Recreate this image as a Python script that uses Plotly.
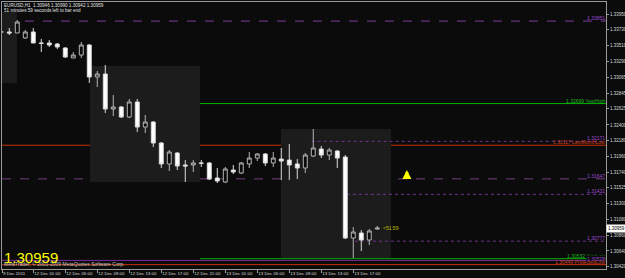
import plotly.graph_objects as go

# ---------------- data ----------------
bar_times = (["9 Dec 21:00", "9 Dec 22:00", "9 Dec 23:00"]
             + ["12 Dec %02d:00" % h for h in range(24)]
             + ["13 Dec %02d:00" % h for h in range(21)])

opens = [1.33699, 1.33699, 1.33685, 1.33615, 1.33699, 1.33545, 1.33545, 1.33531,
         1.33475, 1.33335, 1.33377, 1.33517, 1.33070, 1.33112, 1.32623, 1.32651,
         1.32511, 1.32721, 1.32371, 1.32441, 1.32148, 1.31855, 1.32008, 1.31841,
         1.31841, 1.31869, 1.31869, 1.31659, 1.31603, 1.31771, 1.31729, 1.31855,
         1.31938, 1.31994, 1.31869, 1.31924, 1.31910, 1.31855, 1.31799, 1.31966,
         1.32064, 1.31980, 1.32036, 1.31952, 1.30821, 1.30891, 1.30793, 1.30946]
highs = [1.33727, 1.33754, 1.33866, 1.33727, 1.33754, 1.33601, 1.33587, 1.33545,
         1.33489, 1.33419, 1.33559, 1.33531, 1.33154, 1.33238, 1.32818, 1.32665,
         1.32763, 1.32763, 1.32539, 1.32455, 1.32162, 1.32050, 1.32022, 1.31910,
         1.31910, 1.31910, 1.31883, 1.31799, 1.31813, 1.31841, 1.31883, 1.32022,
         1.32008, 1.32008, 1.32022, 1.32078, 1.32134, 1.31924, 1.32008, 1.32344,
         1.32106, 1.32078, 1.32050, 1.31980, 1.30974, 1.30933, 1.30947, 1.30990]
lows = [1.33671, 1.33657, 1.33685, 1.33601, 1.33545, 1.33419, 1.33489, 1.33461,
        1.33335, 1.33335, 1.33335, 1.32986, 1.32930, 1.32567, 1.32525, 1.32497,
        1.32497, 1.32302, 1.32288, 1.32092, 1.31799, 1.31757, 1.31771, 1.31603,
        1.31743, 1.31813, 1.31631, 1.31589, 1.31589, 1.31715, 1.31715, 1.31799,
        1.31896, 1.31827, 1.31813, 1.31631, 1.31631, 1.31645, 1.31729, 1.31952,
        1.31938, 1.31910, 1.31799, 1.30807, 1.30541, 1.30639, 1.30723, 1.30942]
closes = [1.33700, 1.33685, 1.33838, 1.33699, 1.33545, 1.33540, 1.33517, 1.33489,
          1.33349, 1.33377, 1.33517, 1.33070, 1.33112, 1.32623, 1.32651, 1.32511,
          1.32721, 1.32371, 1.32441, 1.32148, 1.31855, 1.32022, 1.31827, 1.31827,
          1.31869, 1.31865, 1.31645, 1.31617, 1.31785, 1.31743, 1.31869, 1.31938,
          1.31994, 1.31869, 1.31938, 1.31896, 1.31841, 1.31799, 1.31980, 1.32078,
          1.31980, 1.32050, 1.31938, 1.30821, 1.30905, 1.30793, 1.30919, 1.30959]

x_ticks = [0.1, 4, 8, 12, 16, 20, 24, 28, 32, 36, 40, 44]
x_tick_labels = ["9 Dec 2011", "12 Dec 01:00", "12 Dec 05:00", "12 Dec 09:00",
                 "12 Dec 13:00", "12 Dec 17:00", "12 Dec 21:00", "13 Dec 01:00",
                 "13 Dec 05:00", "13 Dec 09:00", "13 Dec 13:00", "13 Dec 17:00"]

y_ticks = [1.33950, 1.33730, 1.33510, 1.33290, 1.33065, 1.32845, 1.32625, 1.32400,
           1.32180, 1.31960, 1.31740, 1.31525, 1.31300, 1.31080, 1.30860, 1.30640,
           1.30420]
y_tick_labels = ["%.5f" % v for v in y_ticks]

# level lines: value, start bar (None = full width), colour, dash, label, label colour
level_values = [1.33851, 1.32699, 1.32171, 1.32117, 1.31647, 1.31431, 1.30777,
                1.30532, 1.30508, 1.30449]
level_starts = [2.96, 24.84, 38.8, None, None, 43.2, 44.2, 24.84, None, None]
level_colors = ["#7d3c9c", "#00b400", "#6f3590", "#c8320a", "#74407f", "#6f3590",
                "#6f3590", "#00b400", "#7a2a9a", "#c8320a"]
level_dash = ["dash", "solid", "dot", "solid", "dash", "dot", "dot", "solid",
              "solid", "solid"]
level_labels = ["1.33851", "1.32699 YestHigh", "1.32171", "1.32117 LastMonthLow",
                "1.31647", "1.31431", "1.30777", "1.30532 YestLow", "1.30528",
                "1.30449 ProjectedLow"]
level_label_colors = ["#9c48d0", "#22b422", "#9c48d0", "#d2401a", "#9c48d0",
                      "#9c48d0", "#9c48d0", "#22b422", "#9c48d0", "#d2401a"]

# shaded session boxes: x0, x1 (bar index), y0, y1 (price)
boxes_x0 = [-1.0, 11.09, 34.96]
boxes_x1 = [1.96, 24.84, 48.71]
boxes_y0 = [1.32986, 1.31603, 1.30542]
boxes_y1 = [1.33978, 1.33224, 1.32344]

signal_arrow = (50.7, 1.31771)
current_price = 1.30959

# ---------------- figure ----------------
BG = "#0b0b0b"
X_RANGE = [0.09, 75.59]
Y_RANGE = [1.303881, 1.341176]
L, R, T, B = 2, 19, 2, 9
W, H = 625, 278
PW, PH = W - L - R, H - T - B


def px(x):
    return (x - L) / PW


def py(y):
    return (H - B - y) / PH


fig = go.Figure()
fig.add_trace(go.Candlestick(
    x=list(range(len(opens))), open=opens, high=highs, low=lows, close=closes,
    text=bar_times,
    increasing=dict(line=dict(color="#b4b4b4", width=1), fillcolor=BG),
    decreasing=dict(line=dict(color="#dcdcdc", width=1), fillcolor="#ffffff"),
    whiskerwidth=0, showlegend=False))

shapes = []
for x0, x1, y0, y1 in zip(boxes_x0, boxes_x1, boxes_y0, boxes_y1):
    shapes.append(dict(type="rect", xref="x", yref="y", x0=x0, x1=x1, y0=y0, y1=y1,
                       fillcolor="#1c1c1c", line=dict(width=0), layer="below"))
for v, s, c, d in zip(level_values, level_starts, level_colors, level_dash):
    if s is None:
        shapes.append(dict(type="line", xref="paper", yref="y", x0=0, x1=1, y0=v, y1=v,
                           line=dict(color=c, width=1, dash=d), layer="below"))
    else:
        shapes.append(dict(type="line", xref="x", yref="y", x0=s, x1=X_RANGE[1], y0=v,
                           y1=v, line=dict(color=c, width=1, dash=d), layer="below"))

F = "Liberation Sans"
ann = []
for v, lab, c in zip(level_values, level_labels, level_label_colors):
    a = dict(xref="paper", yref="y", x=1, y=v, xanchor="right", yanchor="bottom",
             text=lab, showarrow=False, font=dict(family=F, size=5, color=c),
             borderpad=0, yshift=-1)
    if lab == "1.30528":
        a["bgcolor"] = BG
        a["yshift"] = -3
    ann.append(a)

ann += [
    dict(xref="paper", yref="paper", x=px(3), y=py(5), xanchor="left", yanchor="middle",
         text="EURUSD,H1  1.30946 1.30990 1.30942 1.30959", showarrow=False,
         font=dict(family=F, size=4.6, color="#e0e0e0"), borderpad=0),
    dict(xref="paper", yref="paper", x=px(3), y=py(11), xanchor="left", yanchor="middle",
         text="51 minutes 59 seconds left to bar end", showarrow=False,
         font=dict(family=F, size=4.6, color="#e0e0e0"), borderpad=0),
    dict(xref="paper", yref="paper", x=px(3), y=py(264), xanchor="left", yanchor="middle",
         text="MetaTrader, © 2001-2009 MetaQuotes Software Corp.", showarrow=False,
         font=dict(family=F, size=5, color="#c8c8c8"), borderpad=0),
    dict(xref="paper", yref="paper", x=px(3), y=py(257), xanchor="left", yanchor="middle",
         text="1.30959", showarrow=False,
         font=dict(family=F, size=15, color="#ffff00"), borderpad=0),
    dict(xref="x", yref="y", x=47.6, y=current_price, xanchor="left", yanchor="middle",
         text="<51:59", showarrow=False,
         font=dict(family=F, size=5, color="#c0c000"), borderpad=0),
    dict(xref="paper", yref="y", x=1, y=current_price, xanchor="left", yanchor="middle",
         text="1.30959", showarrow=False, bgcolor="#ffffff",
         font=dict(family=F, size=4.5, color="#000000"), borderpad=1),
    dict(xref="x", yref="y", x=signal_arrow[0], y=signal_arrow[1], ax=0, ay=10,
         text="", showarrow=True, arrowhead=2, arrowsize=0.6, arrowwidth=3,
         arrowcolor="#ffff00"),
]

fig.update_layout(
    width=W, height=H, margin=dict(l=L, r=R, t=T, b=B, autoexpand=False),
    paper_bgcolor=BG, plot_bgcolor=BG, boxgap=0.3,
    shapes=shapes, annotations=ann, showlegend=False,
    font=dict(family=F, size=5, color="#d8d8d8"),
    xaxis=dict(range=X_RANGE, tickvals=x_ticks, ticktext=x_tick_labels,
               tickangle=0, automargin=False,
               showgrid=False, zeroline=False, showline=True, linecolor="#9a9a9a",
               linewidth=1, mirror=True, ticks="outside", ticklen=3,
               tickcolor="#9a9a9a", tickfont=dict(family=F, size=4.4, color="#d8d8d8"),
               ticklabelposition="outside right", rangeslider=dict(visible=False),
               fixedrange=True),
    yaxis=dict(range=Y_RANGE, side="right", tickvals=y_ticks, ticktext=y_tick_labels,
               automargin=False, ticklabelstandoff=0,
               showgrid=False, zeroline=False, showline=True, linecolor="#9a9a9a",
               linewidth=1, mirror=True, ticks="outside", ticklen=2,
               tickcolor="#9a9a9a", tickfont=dict(family=F, size=4.5, color="#d8d8d8"),
               fixedrange=True),
)

fig.write_html("out.html")
